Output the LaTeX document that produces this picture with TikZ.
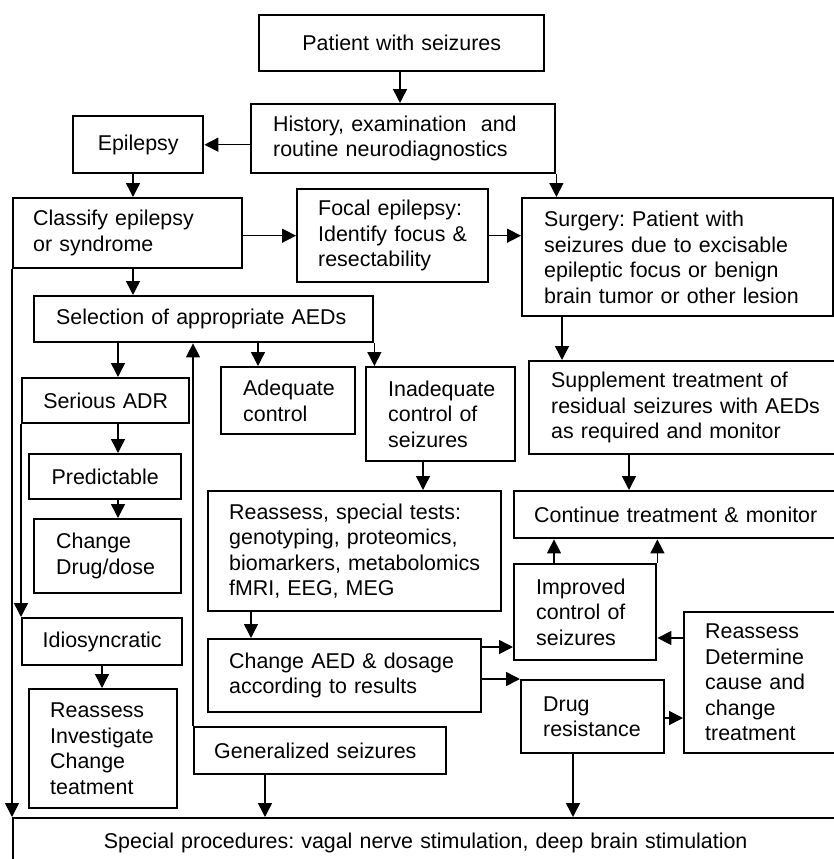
\documentclass[tikz,border=0pt]{standalone}
\usepackage{fontspec}
\setmainfont{Liberation Sans}
\usetikzlibrary{arrows.meta}
\frenchspacing
\newcommand\diafont{\fontsize{21.4pt}{25.5pt}\selectfont\frenchspacing}
\tikzset{
  box/.style={draw, line width=2.4pt, font=\diafont, anchor=north west, inner ysep=2pt},
  arr/.style={draw, line width=1.5pt, -{Triangle[length=14pt,width=14pt]}}
}
\begin{document}
\begin{tikzpicture}[x={(1pt,0pt)}, y={(0pt,-1pt)}]
\useasboundingbox (0,0) rectangle (834,859);
\clip (0,0) rectangle (834,859);
\fill[white] (0,0) rectangle (834,859);

% boxes
\node[box, align=center, inner xsep=10pt, text width=265pt, minimum height=56pt] (patient) at (258,14) {Patient with seizures};
\node[box, align=left, inner xsep=22pt, text width=260pt, minimum height=69pt] (history) at (250,103) {History, examination\ \ and\\routine neurodiagnostics};
\node[box, align=center, inner xsep=5pt, text width=120pt, minimum height=57pt] (epilepsy) at (72,115) {Epilepsy};
\node[box, align=left, inner xsep=20pt, text width=189pt, minimum height=70pt] (classify) at (12,197) {Classify epilepsy\\or syndrome};
\node[box, align=left, inner xsep=21pt, text width=149pt, minimum height=93pt] (focal) at (296,188) {Focal epilepsy:\\Identify~focus~\&\\resectability};
\node[box, align=left, inner xsep=22pt, text width=267pt, minimum height=118pt] (surgery) at (521,197) {Surgery: Patient with\\seizures due to excisable\\epileptic focus or benign\\brain~tumor~or~other~lesion};
\node[box, align=left, inner xsep=22pt, text width=295pt, minimum height=46pt] (selection) at (33,295) {Selection of appropriate AEDs};
\node[box, align=center, inner xsep=5pt, text width=157pt, minimum height=45pt] (serious) at (21,377) {Serious ADR};
\node[box, align=center, inner xsep=5pt, text width=142pt, minimum height=45pt] (predictable) at (28,453) {Predictable};
\node[box, align=left, inner xsep=22pt, text width=103pt, minimum height=74pt] (changedrug) at (33,518) {Change\\Drug/dose};
\node[box, align=left, inner xsep=22pt, text width=90pt, minimum height=67pt] (adequate) at (220,366) {Adequate\\control};
\node[box, align=left, inner xsep=22pt, text width=105pt, minimum height=94pt] (inadequate) at (365,366) {Inadequate\\control~of\\seizures};
\node[box, align=left, inner xsep=22pt, text width=268pt, minimum height=93pt] (supplement) at (528,360) {Supplement~treatment~of\\residual~seizures~with~AEDs\\as~required~and~monitor};
\node[box, align=left, inner xsep=21pt, text width=251pt, minimum height=120pt] (reassess) at (207,490) {Reassess,~special~tests:\\genotyping,~proteomics,\\biomarkers,~metabolomics\\fMRI,~EEG,~MEG};
\node[box, align=left, inner xsep=20pt, text width=287pt, minimum height=47pt] (continue) at (513,490) {Continue~treatment~\&~monitor};
\node[box, align=left, inner xsep=22pt, text width=98pt, minimum height=96pt] (improved) at (513,563) {Improved\\control~of\\seizures};
\node[box, align=left, inner xsep=21pt, text width=115pt, minimum height=141pt] (reassess2) at (683,611) {Reassess\\Determine\\cause~and\\change\\treatment};
\node[box, align=left, inner xsep=21pt, text width=231pt, minimum height=73pt] (changeaed) at (207,638) {Change~AED~\&~dosage\\according~to~results};
\node[box, align=left, inner xsep=22pt, text width=99pt, minimum height=73pt] (drugres) at (520,679) {Drug\\resistance};
\node[box, align=center, inner xsep=5pt, text width=150pt, minimum height=47pt] (idio) at (21,617) {Idiosyncratic};
\node[box, align=left, inner xsep=21pt, text width=106pt, minimum height=119pt] (reinvest) at (28,688) {Reassess\\Investigate\\Change\\teatment};
\node[box, align=left, inner xsep=20pt, text width=212pt, minimum height=47pt] (generalized) at (193,726) {Generalized~seizures};
\node[box, align=center, inner xsep=10pt, text width=805pt, minimum height=49pt] (special) at (12,817) {Special procedures: vagal nerve stimulation, deep brain stimulation};

% connectors
\draw[arr] (patient.south -| 400,0) -- (history.north -| 400,0);
\draw[arr] (history.west |- epilepsy.east) -- (epilepsy.east);
\draw[arr] (history.south east) -- (history.south east |- surgery.north);
\draw[arr] (epilepsy.south -| 133,0) -- (classify.north -| 133,0);
\draw[arr] (classify.east |- focal.west) -- (focal.west);
\draw[arr] (focal.east) -- (focal.east -| surgery.west);
\draw[arr] (classify.south -| 133,0) -- (selection.north -| 133,0);
\draw[arr] (selection.south -| 118,0) -- (serious.north -| 118,0);
\draw[arr] (selection.south -| 258,0) -- (adequate.north -| 258,0);
\draw[arr] (selection.south east) -- (selection.south east |- inadequate.north);
\draw[arr] (generalized.north west) -- (generalized.north west |- selection.south);
\draw[arr] (classify.south west) -- (classify.south west |- special.north);
\draw[arr] (serious.south west) -- (serious.south west |- idio.north);
\draw[arr] (serious.south -| 118,0) -- (predictable.north -| 118,0);
\draw[arr] (predictable.south -| 118,0) -- (changedrug.north -| 118,0);
\draw[arr] (idio.south -| 102,0) -- (reinvest.north -| 102,0);
\draw[arr] (inadequate.south -| 423,0) -- (reassess.north -| 423,0);
\draw[arr] (reassess.south -| 251,0) -- (changeaed.north -| 251,0);
\draw[arr] (changeaed.east |- 0,647) -- (improved.west |- 0,647);
\draw[arr] (changeaed.east |- drugres.north west) -- (drugres.north west);
\draw[arr] (surgery.south -| 562,0) -- (supplement.north -| 562,0);
\draw[arr] (supplement.south -| 629,0) -- (continue.north -| 629,0);
\draw[arr] (improved.north -| 554,0) -- (continue.south -| 554,0);
\draw[arr] (improved.north east) -- (improved.north east |- continue.south);
\draw[arr] (reassess2.west |- 0,638) -- (improved.east |- 0,638);
\draw[arr] (drugres.east |- 0,718) -- (reassess2.west |- 0,718);
\draw[arr] (drugres.south -| 573,0) -- (special.north -| 573,0);
\draw[arr] (generalized.south -| 265,0) -- (special.north -| 265,0);
\end{tikzpicture}
\end{document}
